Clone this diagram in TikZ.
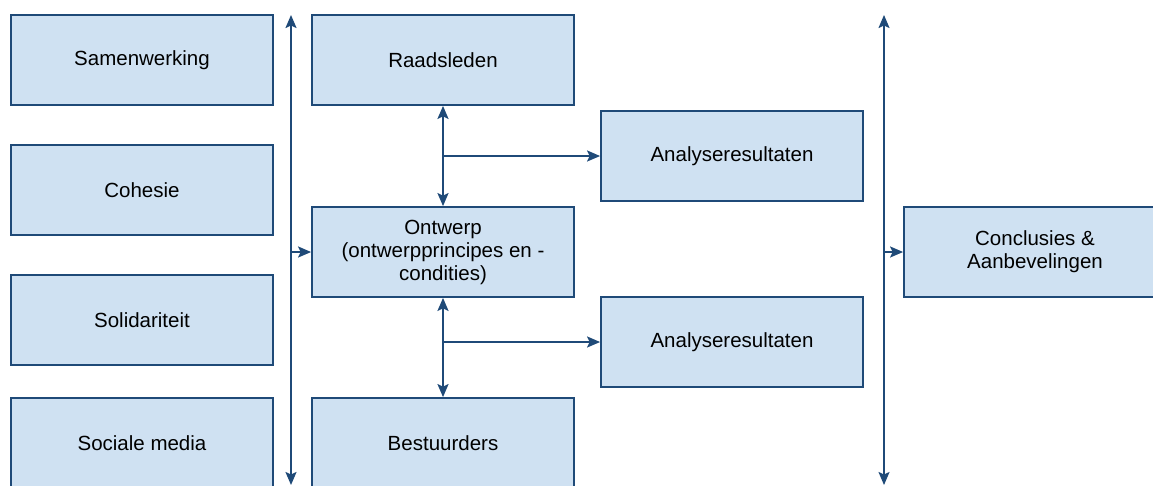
\documentclass[tikz,border=0pt]{standalone}
\usepackage{fontspec}
\setmainfont{Liberation Sans}
\usetikzlibrary{arrows.meta}
\definecolor{boxfill}{HTML}{CFE1F2}
\definecolor{boxline}{HTML}{1F4A78}

\begin{document}
\begin{tikzpicture}[x=1pt, y=-1pt,
		box/.style={draw=boxline, fill=boxfill, line width=1.8pt, minimum width=262pt, minimum height=90pt, align=center, inner sep=0pt, font=\fontsize{20.5}{23}\selectfont},
		arr/.style={draw=boxline, line width=1.8pt, -{Stealth[length=13pt, width=11pt, inset=2.5pt]}},
		dbl/.style={arr, {Stealth[length=13pt, width=11pt, inset=2.5pt]}-{Stealth[length=13pt, width=11pt, inset=2.5pt]}}]
				\clip (0, 0) rectangle (1153, 485);
				% left column
				\node[box] (S)at(142, 60) {Samenwerking};
				\node[box] (C)at(142, 190) {Cohesie};
				\node[box] (So)at(142, 320) {Solidariteit};
				\node[box] (M)at(142, 443) {Sociale media};
				% middle column
				\node[box] (R)at(443, 60) {Raadsleden};
				\node[box] (O)at(443, 252) {Ontwerp\\(ontwerpprincipes en -\\condities)};
				\node[box] (B)at(443, 443) {Bestuurders};
				\node[box] (A1)at(732, 156) {Analyseresultaten};
				\node[box] (A2)at(732, 342) {Analyseresultaten};
				\node[box] (K)at(1035, 252) {Conclusies \&\\Aanbevelingen};
				% vertical lines
				\coordinate (Lt)at(291, 15);
				\coordinate (Lb)at(291, 485);
				\coordinate (Rt)at(884, 15);
				\coordinate (Rb)at(884, 485);
				\draw[dbl] (Lb) -- (Lt);
				\draw[dbl] (Rb) -- (Rt);
				\draw[arr] (Lt |- O.west) -- (O.west);
				\draw[arr] (Rt |- K.west) -- (K.west);
				% links
				\draw[dbl] (R.south) -- (O.north);
				\draw[dbl] (O.south) -- (B.north);
				\draw[arr] (R.south |- A1.west) -- (A1.west);
				\draw[arr] (O.south |- A2.west) -- (A2.west);
			\end{tikzpicture}
\end{document}
